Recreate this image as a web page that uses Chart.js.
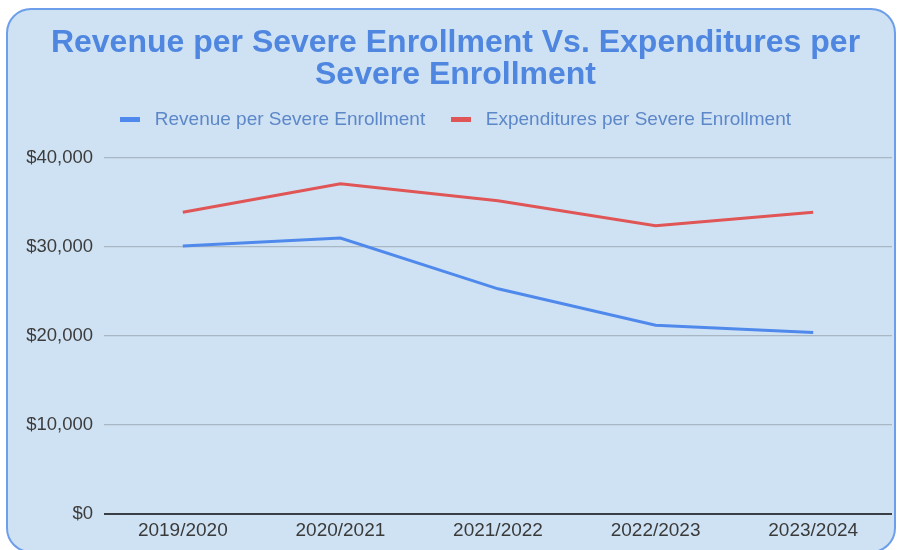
<!DOCTYPE html>
<html>
<head>
<meta charset="utf-8">
<script src="https://cdn.jsdelivr.net/npm/chart.js@4/dist/chart.umd.min.js"></script>
<style>
  html, body { margin: 0; padding: 0; background: #fff; }
  #wrap { width: 899px; height: 550px; }
</style>
</head>
<body>
<div id="wrap"><canvas id="chart" width="899" height="550"></canvas></div>
<script>
// valores
const years = ['2019/2020', '2020/2021', '2021/2022', '2022/2023', '2023/2024'];
const revenue = [30100, 31000, 25300, 21200, 20400];
const expenditures = [33900, 37100, 35200, 32400, 33900];
const yTicks = [0, 10000, 20000, 30000, 40000];

const FONT = "'Liberation Sans', Arial, sans-serif";

// fondo de la tarjeta con borde redondeado
const cardBg = {
    id: 'cardBg',
    beforeDraw(chart) {
        const c = chart.ctx;
        c.save();
        c.fillStyle = '#ffffff';
        c.fillRect(0, 0, chart.width, chart.height);
        c.beginPath();
        c.roundRect(7, 9, 888, 543, 24);
        c.fillStyle = '#cfe2f3';
        c.fill();
        c.lineWidth = 2;
        c.strokeStyle = '#6d9eeb';
        c.stroke();
        c.restore();
    }
};

// espacio extra debajo de la leyenda
const legendGap = {
    id: 'legendGap',
    beforeInit(chart) {
        const fit = chart.legend.fit;
        chart.legend.fit = function () {
            fit.bind(chart.legend)();
            this.height += 19;
        };
    }
};

new Chart(document.getElementById('chart'), {
    type: 'line',
    data: {
        labels: years,
        datasets: [{
            label: 'Revenue per Severe Enrollment',
            data: revenue,
            borderColor: '#5089ec',
            backgroundColor: '#5089ec',
            borderWidth: 3,
            pointRadius: 0,
            tension: 0
        }, {
            label: 'Expenditures per Severe Enrollment',
            data: expenditures,
            borderColor: '#e05555',
            backgroundColor: '#e05555',
            borderWidth: 3,
            pointRadius: 0,
            tension: 0
        }]
    },
    options: {
        responsive: false,
        animation: false,
        layout: { padding: { left: 19, right: 7, top: 17, bottom: 0 } },
        plugins: {
            title: {
                display: true,
                text: ['Revenue per Severe Enrollment Vs. Expenditures per', 'Severe Enrollment'],
                color: '#4f86e0',
                font: { family: FONT, size: 32, weight: 'bold', lineHeight: 1.0 },
                padding: { top: 10, bottom: 9 }
            },
            legend: {
                labels: {
                    color: '#5c87c8',
                    font: { family: FONT, size: 19 },
                    boxWidth: 20,
                    boxHeight: 5,
                    padding: 10,
                    generateLabels(chart) {
                        const items = Chart.defaults.plugins.legend.labels.generateLabels(chart);
                        // espacios para separar como en el original
                        items.forEach((it, i) => {
                            it.lineWidth = 0;
                            it.text = ' ' + it.text + (i < items.length - 1 ? '   ' : '');
                        });
                        return items;
                    }
                }
            },
            tooltip: { enabled: false }
        },
        scales: {
            x: {
                offset: true,
                grid: { display: false, drawTicks: false },
                border: { display: false },
                ticks: { color: '#3a3a3a', font: { family: FONT, size: 19 }, padding: 5, maxRotation: 0 },
                afterFit(scale) { scale.height = 36; }
            },
            y: {
                min: 0,
                max: 40000,
                afterBuildTicks(scale) { scale.ticks = yTicks.map(v => ({ value: v })); },
                grid: {
                    drawTicks: false,
                    color: ctx => ctx.tick && ctx.tick.value === 0 ? '#3a3f45' : '#a9b6c3',
                    lineWidth: ctx => ctx.tick && ctx.tick.value === 0 ? 2 : 1.2
                },
                border: { display: false },
                ticks: {
                    color: '#3c3c3c',
                    font: { family: FONT, size: 18.5 },
                    padding: 11,
                    callback: v => '$' + v.toLocaleString('en-US')
                },
                afterFit(scale) { scale.width = 85; }
            }
        }
    },
    plugins: [cardBg, legendGap]
});
</script>
</body>
</html>
